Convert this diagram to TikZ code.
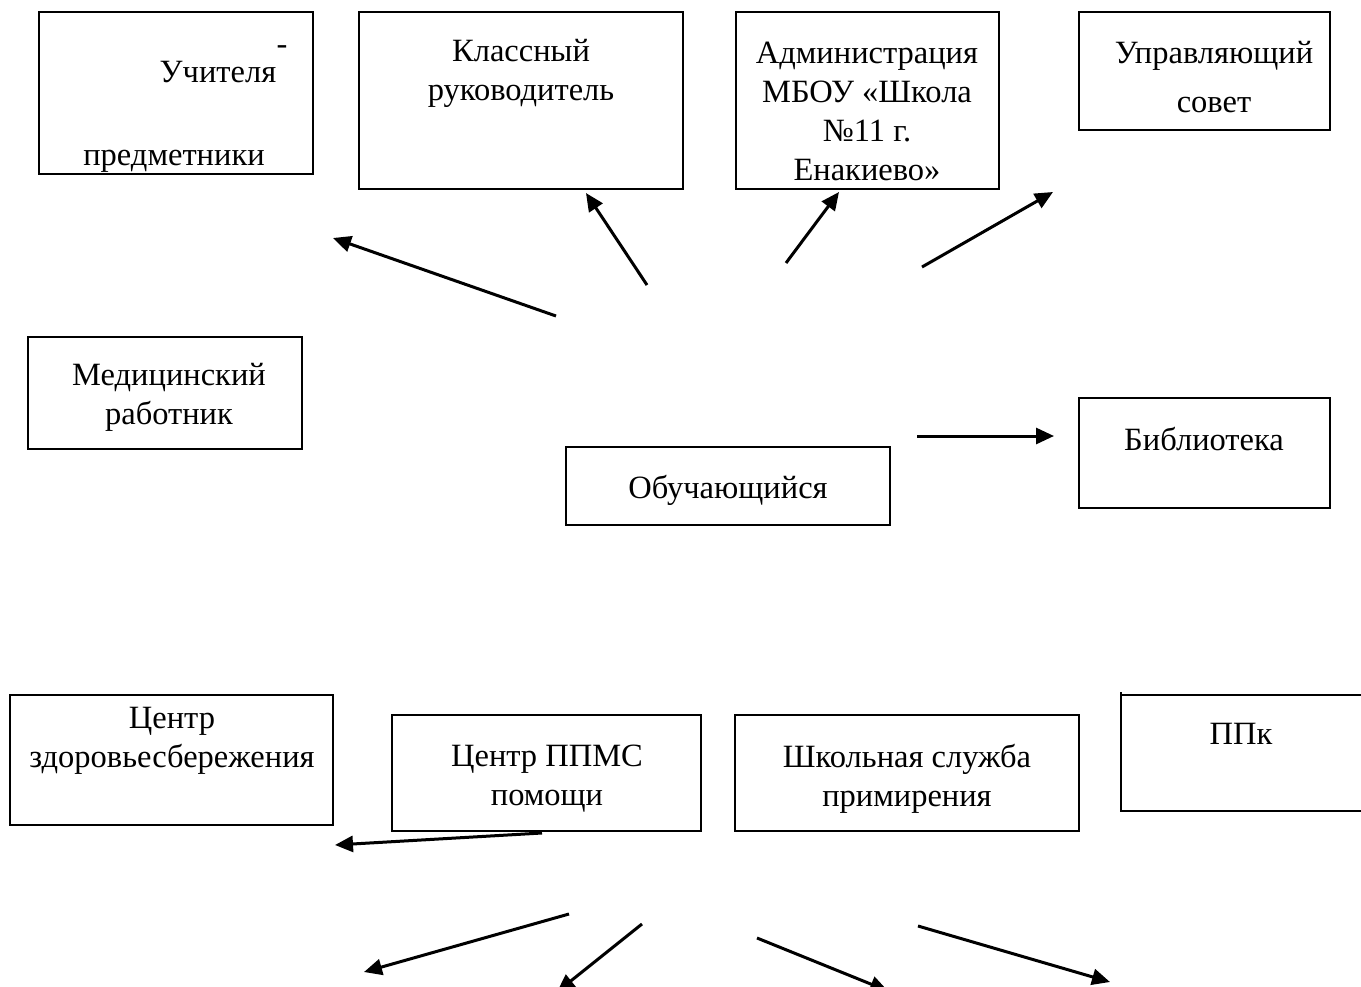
\documentclass[tikz,border=0pt]{standalone}
\usepackage{fontspec}
\setmainfont{Liberation Serif}
\usetikzlibrary{arrows.meta}

\tikzset{
    lbl/.style={align=center, inner sep=0pt, font=\fontsize{13}{15.6}\selectfont},
    frame/.style={line width=1.1pt},
    arr/.style={line width=1.2pt, -{Triangle[length=7.2pt,width=6.4pt]}}
}

\begin{document}
\begin{tikzpicture}[x=0.4pt,y=-0.4pt]

    \useasboundingbox (0,0) rectangle (1361,987);

    % boxes
    \draw [frame](39,12) rectangle (313,174);
    \draw [frame](359,12) rectangle (683,189);
    \draw [frame](736,12) rectangle (999,189);
    \draw [frame](1079,12) rectangle (1330,130);
    \draw [frame](28,337) rectangle (302,449);
    \draw [frame](566,447) rectangle (890,525);
    \draw [frame](1079,398) rectangle (1330,508);
    \draw [frame](10,695) rectangle (333,825);
    \draw [frame](392,715) rectangle (701,831);
    \draw [frame](735,715) rectangle (1079,831);
    \draw [frame](1361,695) -- (1121,695) (1121,692) -- (1121,811) -- (1361,811);

    % texts
    \node [lbl] (ucht) at (218,72) {Учителя};
    \node [lbl] (uchd) at (282,50) {-};
    \node [lbl] (pred) at (174,161) {предметники};
    \node [lbl] (klass) at (521,73) {Классный\\руководитель};
    \node [lbl] (adm) at (867,111) {Администрация\\МБОУ «Школа\\№11 г.\\Енакиево»};
    \node [lbl] (sovet) at (1214,77) {Управляющий\\[3.9pt]совет};
    \node [lbl] (med) at (169,397) {Медицинский\\работник};
    \node [lbl] (obuch) at (728,490) {Обучающийся};
    \node [lbl] (bibl) at (1204,439) {Библиотека};
    \node [lbl] (zdor) at (172,741) {Центр\\здоровьесбережения};
    \node [lbl] (ppms) at (547,779) {Центр ППМС\\помощи};
    \node [lbl] (shsp) at (907,779) {Школьная служба\\примирения};
    \node [lbl] (ppk) at (1241,734) {ППк};

    % upper arrows
    \coordinate (A) at (556,316);
    \coordinate (B) at (333,238);
    \coordinate (C) at (647,285);
    \coordinate (D) at (586,193);
    \coordinate (E) at (786,263);
    \coordinate (F) at (839,192);
    \coordinate (G) at (922,267);
    \coordinate (H) at (1053,192);
    \coordinate (I) at (917,436);
    \coordinate (J) at (1054,436);

    \draw [arr] (A) -- (B);
    \draw [arr] (C) -- (D);
    \draw [arr] (E) -- (F);
    \draw [arr] (G) -- (H);
    \draw [arr] (I) -- (J);

    % lower arrows
    \coordinate (K) at (542,833);
    \coordinate (L) at (335,845);
    \coordinate (M) at (569,914);
    \coordinate (N) at (364,972);
    \coordinate (O) at (642,924);
    \coordinate (P) at (557,992);
    \coordinate (Q) at (757,938);
    \coordinate (R) at (888,991);
    \coordinate (S) at (918,926);
    \coordinate (T) at (1110,982);

    \draw [arr] (K) -- (L);
    \draw [arr] (M) -- (N);
    \draw [arr] (O) -- (P);
    \draw [arr] (Q) -- (R);
    \draw [arr] (S) -- (T);

\end{tikzpicture}
\end{document}
